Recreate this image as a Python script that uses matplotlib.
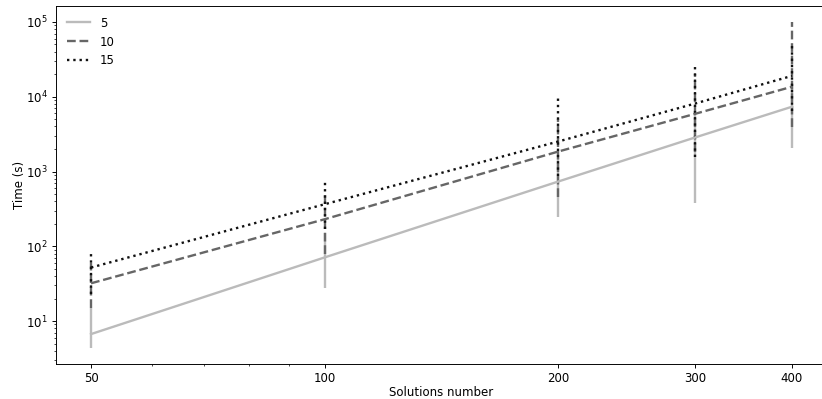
"""Solve time versus number of solutions, log-log, with min/max bars."""

import matplotlib.pyplot as plt
from matplotlib.ticker import NullFormatter, ScalarFormatter

solutions = [50, 100, 200, 300, 400]
series_labels = ["5", "10", "15"]

# mean time per number of solutions
time_5 = [6.7, 71, 735, 2850, 7350]
time_10 = [32, 230, 1850, 5900, 13600]
time_15 = [52, 365, 2520, 8100, 19000]

# lower / upper extent of the bars
low_5 = [4.4, 27.5, 250, 385, 2090]
high_5 = [15, 150, 1500, 6000, 15000]
low_10 = [15, 78, 450, 1800, 3900]
high_10 = [60, 500, 5000, 20000, 99000]
low_15 = [23, 170, 860, 1540, 6500]
high_15 = [83, 735, 10000, 27600, 53000]

means = [time_5, time_10, time_15]
lows = [low_5, low_10, low_15]
highs = [high_5, high_10, high_15]
colors = ["#bbbbbb", "#666666", "#111111"]
styles = ["-", "--", ":"]

DPI = 85


def main():
    fig = plt.figure(figsize=(822 / DPI, 399 / DPI), dpi=DPI)
    ax = fig.add_axes([56 / 822, 35 / 399, 771 / 822, 358 / 399])

    handles = []
    for y, lo, hi, color, ls, label in zip(means, lows, highs, colors,
                                           styles, series_labels):
        yerr = [[m - l for m, l in zip(y, lo)], [h - m for m, h in zip(y, hi)]]
        cont = ax.errorbar(solutions, y, yerr=yerr, color=color,
                           linestyle=ls, linewidth=2, elinewidth=2,
                           capsize=0, label=label)
        cont[2][0].set_linestyle(ls)
        handles.append(cont[0])

    ax.set_xscale("log")
    ax.set_yscale("log")
    ax.set_xticks(solutions)
    ax.xaxis.set_major_formatter(ScalarFormatter())
    ax.xaxis.set_minor_formatter(NullFormatter())

    ax.set_xlabel("Solutions number", labelpad=1)
    ax.set_ylabel("Time (s)", labelpad=0)
    ax.legend(handles, series_labels, loc="upper left", frameon=False)

    fig.savefig("out.png", dpi=DPI)


if __name__ == "__main__":
    main()
